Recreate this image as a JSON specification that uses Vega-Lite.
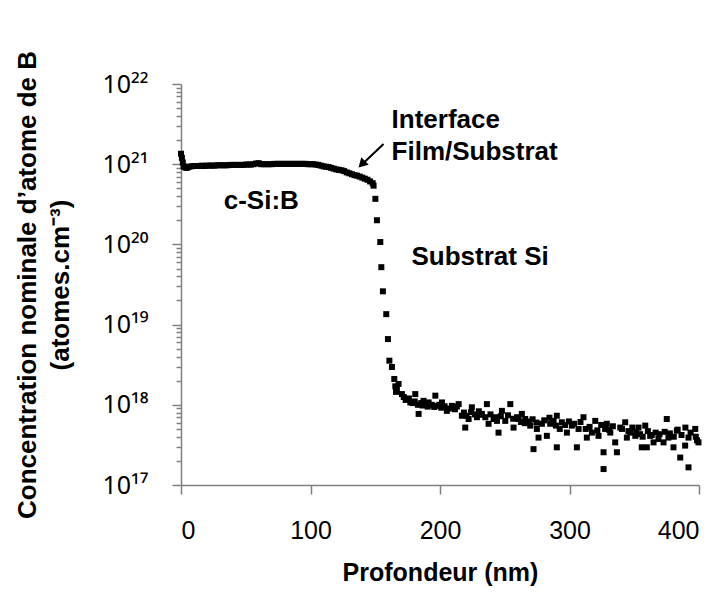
{
  "$schema": "https://vega.github.io/schema/vega-lite/v6.json",
  "width": 518,
  "height": 401,
  "padding": {"left": 14, "top": 50, "right": 20, "bottom": 5},
  "background": "white",
  "config": {
    "view": {"stroke": null},
    "font": "Liberation Sans",
    "axis": {"domainColor": "#808080", "domainWidth": 1.5, "tickColor": "#808080", "tickWidth": 1.5, "grid": false, "labelColor": "black", "titleColor": "black", "labelFont": "Liberation Sans", "titleFont": "Liberation Sans"}
  },
  "layer": [
    {
      "data": {"values": [
        {"x": 0, "c": 1.35e21}, {"x": 0.7, "c": 1.2e21}, {"x": 1.4, "c": 1.05e21}, {"x": 2, "c": 9.4e20}, {"x": 3, "c": 9.2e20}, {"x": 4, "c": 9.0e20}, {"x": 5, "c": 9.1e20}, {"x": 6, "c": 9.3e20}, {"x": 8, "c": 9.4e20}, {"x": 10, "c": 9.5e20},
        {"x": 12, "c": 9.5e20}, {"x": 14, "c": 9.5e20}, {"x": 16, "c": 9.6e20}, {"x": 18, "c": 9.5e20}, {"x": 20, "c": 9.6e20}, {"x": 22, "c": 9.6e20}, {"x": 24, "c": 9.6e20}, {"x": 26, "c": 9.6e20}, {"x": 28, "c": 9.7e20}, {"x": 30, "c": 9.7e20},
        {"x": 32, "c": 9.7e20}, {"x": 34, "c": 9.7e20}, {"x": 36, "c": 9.7e20}, {"x": 38, "c": 9.8e20}, {"x": 40, "c": 9.8e20}, {"x": 42, "c": 9.8e20}, {"x": 44, "c": 9.8e20}, {"x": 46, "c": 9.8e20}, {"x": 48, "c": 9.8e20}, {"x": 50, "c": 9.9e20},
        {"x": 52, "c": 9.9e20}, {"x": 54, "c": 9.9e20}, {"x": 56, "c": 1.0e21}, {"x": 58, "c": 1.02e21}, {"x": 60, "c": 1.03e21}, {"x": 62, "c": 1.0e21}, {"x": 64, "c": 1.0e21}, {"x": 66, "c": 1.0e21}, {"x": 68, "c": 1.0e21}, {"x": 70, "c": 1.0e21},
        {"x": 72, "c": 1.01e21}, {"x": 74, "c": 1.01e21}, {"x": 76, "c": 1.01e21}, {"x": 78, "c": 1.01e21}, {"x": 80, "c": 1.01e21}, {"x": 82, "c": 1.01e21}, {"x": 84, "c": 1.01e21}, {"x": 86, "c": 1.01e21}, {"x": 88, "c": 1.01e21}, {"x": 90, "c": 1.01e21},
        {"x": 92, "c": 1.01e21}, {"x": 94, "c": 1.01e21}, {"x": 96, "c": 1.01e21}, {"x": 98, "c": 1.0e21}, {"x": 100, "c": 1.0e21}, {"x": 102, "c": 1.0e21}, {"x": 104, "c": 9.9e20}, {"x": 106, "c": 9.8e20}, {"x": 108, "c": 9.6e20}, {"x": 110, "c": 9.4e20},
        {"x": 112, "c": 9.3e20}, {"x": 114, "c": 9.2e20}, {"x": 116, "c": 9.0e20}, {"x": 118, "c": 8.8e20}, {"x": 120, "c": 8.6e20}, {"x": 122, "c": 8.5e20}, {"x": 124, "c": 8.4e20}, {"x": 126, "c": 8.2e20}, {"x": 128, "c": 7.9e20}, {"x": 130, "c": 7.7e20},
        {"x": 132, "c": 7.5e20}, {"x": 134, "c": 7.3e20}, {"x": 136, "c": 7.2e20}, {"x": 138, "c": 7.0e20}, {"x": 140, "c": 6.8e20}, {"x": 142, "c": 6.6e20}, {"x": 144, "c": 6.4e20}, {"x": 146, "c": 6.1e20}, {"x": 148, "c": 5.8e20},
        {"x": 148.7, "c": 5.4e20}, {"x": 150.1, "c": 3.7e20}, {"x": 151.3, "c": 2.0e20}, {"x": 153.9, "c": 1.07e20}, {"x": 154.7, "c": 5.2e19}, {"x": 155.9, "c": 2.6e19}, {"x": 158.5, "c": 1.35e19}, {"x": 159.8, "c": 6.6e18}, {"x": 160.9, "c": 3.55e18},
        {"x": 162.9, "c": 2.96e18}, {"x": 164.7, "c": 2.1e18}, {"x": 165.5, "c": 1.7e18}, {"x": 166.0, "c": 1.45e18}, {"x": 166.7, "c": 1.57e18}, {"x": 168.0, "c": 1.82e18}, {"x": 170.6, "c": 1.36e18}, {"x": 174.4, "c": 1.18e18}, {"x": 177.1, "c": 1.07e18},
        {"x": 180.9, "c": 1.36e18}, {"x": 183.5, "c": 7.7e17}, {"x": 187.3, "c": 1.12e18}, {"x": 191.2, "c": 1.07e18}, {"x": 196.4, "c": 1.3e18}, {"x": 197.6, "c": 9.7e17}, {"x": 201.5, "c": 1.07e18}, {"x": 205.3, "c": 8.4e17}, {"x": 209.2, "c": 9.7e17},
        {"x": 214.4, "c": 1.02e18}, {"x": 216.9, "c": 7.3e17}, {"x": 219.5, "c": 5.2e17}, {"x": 222.1, "c": 6.65e17}, {"x": 224.6, "c": 9.3e17}, {"x": 228.5, "c": 7.0e17}, {"x": 232.3, "c": 7.7e17}, {"x": 236.2, "c": 1.02e18}, {"x": 237.5, "c": 5.8e17},
        {"x": 241.4, "c": 6.65e17}, {"x": 245.2, "c": 4.5e17}, {"x": 247.8, "c": 8.4e17}, {"x": 250.4, "c": 6.3e17}, {"x": 254.3, "c": 1.02e18}, {"x": 256.8, "c": 5.2e17}, {"x": 260.7, "c": 6.65e17}, {"x": 263.2, "c": 7.7e17}, {"x": 265.8, "c": 6.65e17},
        {"x": 269.7, "c": 5.5e17}, {"x": 272.2, "c": 2.8e17}, {"x": 274.8, "c": 5.0e17}, {"x": 276.1, "c": 3.9e17}, {"x": 278.7, "c": 5.8e17}, {"x": 282.5, "c": 4.1e17}, {"x": 285.1, "c": 5.8e17}, {"x": 287.7, "c": 6.3e17}, {"x": 290.2, "c": 7.3e17},
        {"x": 290.2, "c": 2.95e17}, {"x": 294.1, "c": 6.05e17}, {"x": 298.0, "c": 4.5e17}, {"x": 301.8, "c": 5.5e17}, {"x": 305.7, "c": 2.95e17}, {"x": 307.0, "c": 5.0e17}, {"x": 310.8, "c": 7.0e17}, {"x": 313.4, "c": 3.9e17}, {"x": 317.3, "c": 4.5e17},
        {"x": 319.9, "c": 6.3e17}, {"x": 322.4, "c": 4.1e17}, {"x": 326.3, "c": 2.56e17}, {"x": 326.3, "c": 1.58e17}, {"x": 328.8, "c": 5.8e17}, {"x": 331.5, "c": 4.5e17}, {"x": 335.3, "c": 3.4e17}, {"x": 336.6, "c": 2.56e17}, {"x": 339.2, "c": 5.2e17},
        {"x": 343.0, "c": 6.05e17}, {"x": 344.3, "c": 3.9e17}, {"x": 346.9, "c": 4.5e17}, {"x": 350.8, "c": 4.1e17}, {"x": 353.3, "c": 5.2e17}, {"x": 355.8, "c": 2.95e17}, {"x": 358.5, "c": 5.5e17}, {"x": 359.7, "c": 2.95e17}, {"x": 362.3, "c": 4.1e17},
        {"x": 364.9, "c": 3.4e17}, {"x": 368.7, "c": 3.75e17}, {"x": 372.6, "c": 3.4e17}, {"x": 375.1, "c": 6.65e17}, {"x": 376.4, "c": 3.9e17}, {"x": 380.3, "c": 2.95e17}, {"x": 382.9, "c": 4.75e17}, {"x": 385.5, "c": 2.2e17}, {"x": 389.3, "c": 3.1e17},
        {"x": 391.9, "c": 1.66e17}, {"x": 391.9, "c": 3.9e17}, {"x": 397.1, "c": 5.0e17}, {"x": 399.6, "c": 3.4e17},
        {"x": 172, "c": 1.25e18}, {"x": 173.5, "c": 1.15e18}, {"x": 176, "c": 1.2e18}, {"x": 179, "c": 1.05e18}, {"x": 180.5, "c": 1.1e18}, {"x": 183, "c": 1.0e18}, {"x": 185.5, "c": 1.05e18}, {"x": 186.5, "c": 9.8e17}, {"x": 189.5, "c": 1.02e18},
        {"x": 190.5, "c": 9.5e17}, {"x": 193.5, "c": 1.0e18}, {"x": 195.5, "c": 9.4e17}, {"x": 199.5, "c": 1.0e18}, {"x": 201, "c": 9.2e17}, {"x": 203.5, "c": 9.6e17}, {"x": 207.5, "c": 9.0e17}, {"x": 211.5, "c": 8.8e17}, {"x": 213, "c": 9.5e17},
        {"x": 218.5, "c": 8.0e17}, {"x": 220.5, "c": 7.3e17}, {"x": 224, "c": 8.1e17}, {"x": 227, "c": 7.6e17}, {"x": 230, "c": 8.3e17}, {"x": 232, "c": 7.5e17}, {"x": 235, "c": 7.0e17}, {"x": 239, "c": 7.6e17}, {"x": 243, "c": 7.0e17},
        {"x": 244, "c": 6.3e17}, {"x": 247, "c": 7.2e17}, {"x": 252.5, "c": 7.4e17}, {"x": 256.5, "c": 6.7e17}, {"x": 259.5, "c": 7.0e17}, {"x": 262.5, "c": 6.1e17}, {"x": 265.5, "c": 5.9e17}, {"x": 268.5, "c": 6.2e17}, {"x": 271.5, "c": 6.6e17},
        {"x": 274.5, "c": 6.0e17}, {"x": 280.5, "c": 6.4e17}, {"x": 284.5, "c": 6.9e17}, {"x": 289.5, "c": 5.5e17}, {"x": 292.5, "c": 5.0e17}, {"x": 296.5, "c": 5.6e17}, {"x": 299.5, "c": 6.2e17}, {"x": 303.5, "c": 5.8e17}, {"x": 308.5, "c": 6.1e17},
        {"x": 312.5, "c": 5.0e17}, {"x": 315.5, "c": 5.3e17}, {"x": 321.5, "c": 4.8e17}, {"x": 324.5, "c": 5.6e17}, {"x": 327.5, "c": 5.0e17}, {"x": 330.5, "c": 4.9e17}, {"x": 333.5, "c": 5.4e17}, {"x": 340.5, "c": 5.0e17}, {"x": 345.5, "c": 4.7e17},
        {"x": 348.5, "c": 5.2e17}, {"x": 351.5, "c": 4.6e17}, {"x": 354.5, "c": 4.3e17}, {"x": 356.5, "c": 4.0e17}, {"x": 360.5, "c": 4.7e17}, {"x": 363.5, "c": 4.2e17}, {"x": 366.5, "c": 4.5e17}, {"x": 369.5, "c": 4.3e17}, {"x": 373.5, "c": 4.6e17},
        {"x": 377.5, "c": 4.4e17}, {"x": 380.5, "c": 4.0e17}, {"x": 383.5, "c": 4.9e17}, {"x": 386.5, "c": 4.2e17}, {"x": 389.5, "c": 5.2e17}, {"x": 393.5, "c": 4.5e17}, {"x": 397.5, "c": 4.0e17}, {"x": 398.5, "c": 3.6e17}
      ]},
      "mark": {"type": "square", "color": "black", "size": 36, "opacity": 1},
      "encoding": {
        "x": {"field": "x", "type": "quantitative",
          "scale": {"domain": [0, 400], "nice": false, "zero": false},
          "axis": {"values": [0, 100, 200, 300, 400], "tickSize": 9, "labelPadding": 24, "labelFontSize": 25, "title": "Profondeur (nm)", "titleFontSize": 25, "titleFontWeight": "bold", "titlePadding": 17}},
        "y": {"field": "c", "type": "quantitative",
          "scale": {"type": "log", "domain": [1e17, 1e22], "nice": false},
          "axis": {
            "values": [1e17, 2e17, 3e17, 4e17, 5e17, 6e17, 7e17, 8e17, 9e17, 1e18, 2e18, 3e18, 4e18, 5e18, 6e18, 7e18, 8e18, 9e18, 1e19, 2e19, 3e19, 4e19, 5e19, 6e19, 7e19, 8e19, 9e19, 1e20, 2e20, 3e20, 4e20, 5e20, 6e20, 7e20, 8e20, 9e20, 1e21, 2e21, 3e21, 4e21, 5e21, 6e21, 7e21, 8e21, 9e21, 1e22],
            "labelExpr": "datum.value==1e17?'10¹⁷':datum.value==1e18?'10¹⁸':datum.value==1e19?'10¹⁹':datum.value==1e20?'10²⁰':datum.value==1e21?'10²¹':datum.value==1e22?'10²²':''",
            "labelOverlap": false,
            "labelBound": false,
            "labelFont": "Noto Sans",
            "labelFontSize": 25,
            "labelPadding": 24,
            "tickSize": {"condition": {"test": "indexof([1e17,1e18,1e19,1e20,1e21,1e22], datum.value) >= 0", "value": 9}, "value": 5},
            "title": ["Concentration nominale d’atome de B", "(atomes.cm⁻³)"],
            "titleFontSize": 26,
            "titleFontWeight": "bold",
            "titleLineHeight": 33,
            "titlePadding": 28
          }}
      }
    },
    {
      "data": {"values": [{"x": 156.4, "y": 1.79e21, "x2": 140.5, "y2": 1.02e21}]},
      "mark": {"type": "rule", "color": "black", "strokeWidth": 2},
      "encoding": {
        "x": {"field": "x", "type": "quantitative"},
        "y": {"field": "y", "type": "quantitative"},
        "x2": {"field": "x2"},
        "y2": {"field": "y2"}
      }
    },
    {
      "data": {"values": [{"x": 139.6, "y": 1.0e21}]},
      "mark": {"type": "point", "shape": "triangle-up", "filled": true, "color": "black", "size": 110, "angle": 225, "opacity": 1},
      "encoding": {
        "x": {"field": "x", "type": "quantitative"},
        "y": {"field": "y", "type": "quantitative"}
      }
    },
    {
      "data": {"values": [
        {"x": 162.6, "y": 3.56e21, "t": "Interface"},
        {"x": 162.6, "y": 1.42e21, "t": "Film/Substrat"},
        {"x": 178.0, "y": 7.06e19, "t": "Substrat Si"},
        {"x": 33, "y": 3.43e20, "t": "c-Si:B"}
      ]},
      "mark": {"type": "text", "align": "left", "baseline": "middle", "fontSize": 26, "fontWeight": "bold", "color": "black"},
      "encoding": {
        "x": {"field": "x", "type": "quantitative"},
        "y": {"field": "y", "type": "quantitative"},
        "text": {"field": "t"}
      }
    }
  ]
}
